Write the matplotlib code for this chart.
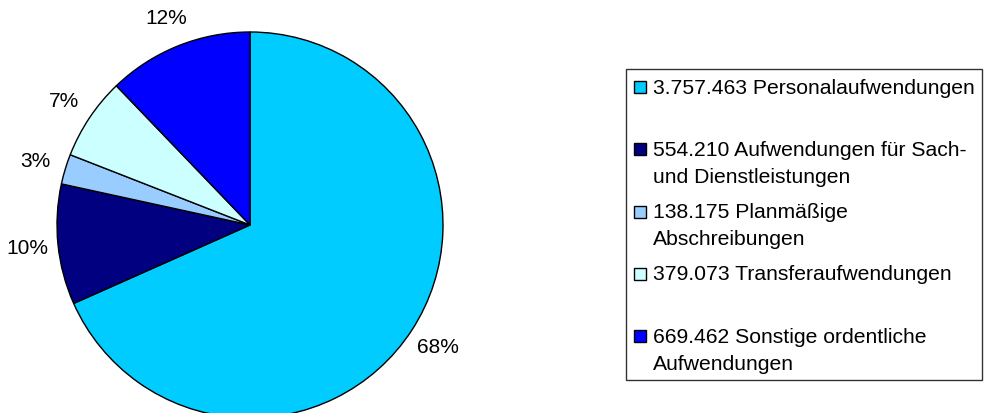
import matplotlib.pyplot as plt
from matplotlib.patches import Rectangle

# data
values = [3757463, 554210, 138175, 379073, 669462]
labels = ['3.757.463 Personalaufwendungen',
          '554.210 Aufwendungen für Sach-\nund Dienstleistungen',
          '138.175 Planmäßige\nAbschreibungen',
          '379.073 Transferaufwendungen',
          '669.462 Sonstige ordentliche\nAufwendungen']
colors = ['#00CCFF', '#000080', '#99CCFF', '#CCFFFF', '#0000FF']

plt.rcParams['font.family'] = ['Liberation Sans', 'DejaVu Sans']

W, H = 988, 414
fig = plt.figure(figsize=(W / 100, H / 100), dpi=100)

# pie: centre (250, 226) px from top-left, radius 193 px
cx, cy, r = 250, 226, 193
ax = fig.add_axes([(cx - r) / W, (H - cy - r) / H, 2 * r / W, 2 * r / H])
wedges, texts, autotexts = ax.pie(values, colors=colors, startangle=90, counterclock=False,
                                  autopct='%1.0f%%', pctdistance=1.16,
                                  wedgeprops=dict(edgecolor='black', linewidth=1.0),
                                  textprops=dict(fontsize=15, color='black'))
ax.set_xlim(-1, 1)
ax.set_ylim(-1, 1)
ax.set_aspect('equal')

# legend drawn by hand (Excel-like layout)
def px(x, y):
    return x / W, 1 - y / H

x0, y0 = px(626, 70)
x1, y1 = px(982, 381)
fig.patches.append(Rectangle((x0, y1), x1 - x0, y0 - y1, transform=fig.transFigure,
                             facecolor='white', edgecolor='#333333', linewidth=1.0))

row_step = 62.3
line_step = 27
for i, (lab, col) in enumerate(zip(labels, colors)):
    yc = 88 + i * row_step
    sx, sy = px(634, yc + 6)
    fig.patches.append(Rectangle((sx, sy), 12 / W, 12 / H, transform=fig.transFigure,
                                 facecolor=col, edgecolor='black', linewidth=1.0))
    for k, line in enumerate(lab.split('\n')):
        tx, ty = px(653, yc + k * line_step)
        fig.text(tx, ty, line, fontsize=15.2, va='center', ha='left')

fig.savefig('out.png', dpi=100)
